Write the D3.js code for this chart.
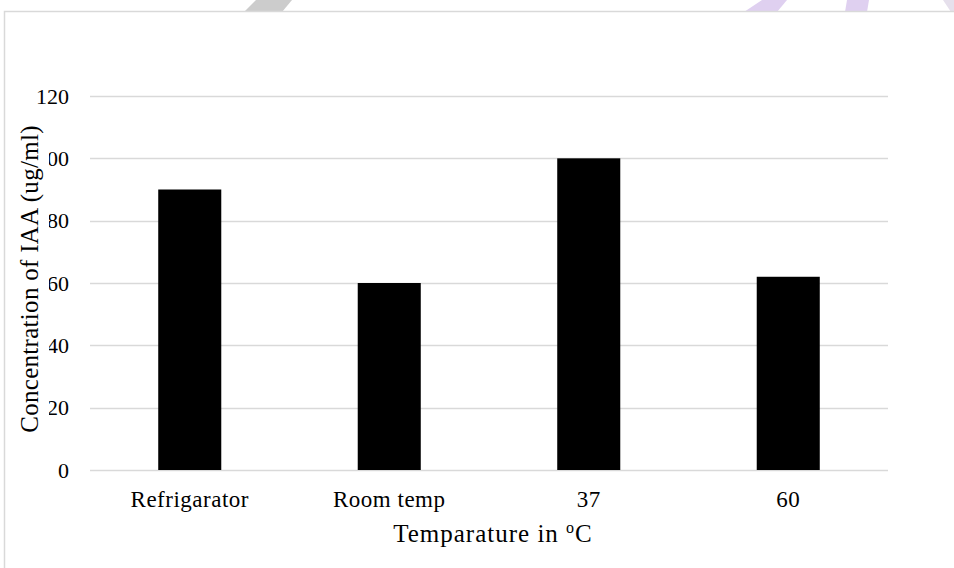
<!DOCTYPE html>
<html>
<head>
<meta charset="utf-8">
<script src="https://cdn.jsdelivr.net/npm/d3@7"></script>
<style>
  body { margin: 0; background: #fff; }
  svg { display: block; font-family: "Liberation Serif", "Times New Roman", serif; }
</style>
</head>
<body>
<svg id="chart" width="954" height="568"></svg>
<script>
const categories = ["Refrigarator", "Room temp", "37", "60"];
const concentration = [90, 60, 100, 62];
const yTicks = [0, 20, 40, 60, 80, 100, 120];

const svg = d3.select("#chart");
const width = 954, height = 568;
const margin = {left: 90, right: 66, top: 96, bottom: 98};

// decorative strokes above the frame
const deco = [
    {pts: [[244, 12], [256, 0], [292, 0], [282, 12]], fill: "#cccccc"},
    {pts: [[744, 12], [762, 0], [787, 0], [777, 12]], fill: "#dfd0f0"},
    {pts: [[845, 12], [847, 0], [869, 0], [867, 12]], fill: "#dfd0f0"},
    {pts: [[943, 0], [954, 0], [954, 12], [951, 12]], fill: "#e6e0ec"}
];
svg.selectAll("polygon.deco")
    .data(deco)
    .enter().append("polygon")
    .attr("class", "deco")
    .attr("points", d => d.pts.map(p => p.join(",")).join(" "))
    .attr("fill", d => d.fill);

// chart frame
svg.append("rect")
    .attr("x", 4.5).attr("y", 11.5)
    .attr("width", 960).attr("height", 580)
    .attr("fill", "#fff")
    .attr("stroke", "#d9d9d9")
    .attr("stroke-width", 1.5);

const x = d3.scaleBand()
    .domain(categories)
    .range([margin.left, width - margin.right])
    .paddingInner(0.684)
    .paddingOuter(0.342);

const y = d3.scaleLinear()
    .domain([0, 120])
    .range([height - margin.bottom, margin.top]);

// gridlines
svg.append("g")
    .selectAll("line")
    .data(yTicks)
    .enter().append("line")
    .attr("x1", margin.left)
    .attr("x2", width - margin.right)
    .attr("y1", d => Math.round(y(d)) + 0.5)
    .attr("y2", d => Math.round(y(d)) + 0.5)
    .attr("stroke", "#d9d9d9")
    .attr("stroke-width", 1.5);

// y axis tick labels
const yAxis = d3.axisLeft(y).tickValues(yTicks).tickSize(0).tickPadding(21);
const gy = svg.append("g")
    .attr("transform", "translate(" + margin.left + ",0)")
    .call(yAxis);
gy.select(".domain").remove();
gy.selectAll("text")
    .attr("font-family", "Liberation Serif, Times New Roman, serif")
    .attr("font-size", 22)
    .attr("fill", "#000");

// bars
svg.append("g")
    .selectAll("rect")
    .data(concentration)
    .enter().append("rect")
    .attr("x", (d, i) => x(categories[i]))
    .attr("y", d => y(d))
    .attr("width", x.bandwidth())
    .attr("height", d => y(0) - y(d))
    .attr("fill", "#000");

// x axis tick labels
const xAxis = d3.axisBottom(x).tickSize(0).tickPadding(21);
const gx = svg.append("g")
    .attr("transform", "translate(0," + y(0) + ")")
    .call(xAxis);
gx.select(".domain").remove();
gx.selectAll("text")
    .attr("font-family", "Liberation Serif, Times New Roman, serif")
    .attr("font-size", 23)
    .attr("letter-spacing", 0.5)
    .attr("fill", "#000");

// x axis title
const xt = svg.append("text")
    .attr("x", (margin.left + width - margin.right) / 2 + 4)
    .attr("y", 542)
    .attr("text-anchor", "middle")
    .attr("font-size", 25)
    .attr("letter-spacing", 1)
    .attr("fill", "#000");
xt.append("tspan").text("Temparature in ");
xt.append("tspan").attr("font-size", 16).attr("dy", -9).text("o");
xt.append("tspan").attr("dy", 9).text("C");

// y axis title (with white backing, covering part of a tick label as in the original)
const yt = svg.append("g")
    .attr("transform", "translate(38,279) rotate(-90)");
const ytText = yt.append("text")
    .attr("text-anchor", "middle")
    .attr("font-size", 25)
    .attr("letter-spacing", 0.3)
    .attr("fill", "#000")
    .text("Concentration of IAA (ug/ml)");
const bb = ytText.node().getBBox();
yt.insert("rect", "text")
    .attr("x", bb.x)
    .attr("y", bb.y + 2)
    .attr("width", bb.width)
    .attr("height", bb.height + 3)
    .attr("fill", "#fff");
</script>
</body>
</html>
